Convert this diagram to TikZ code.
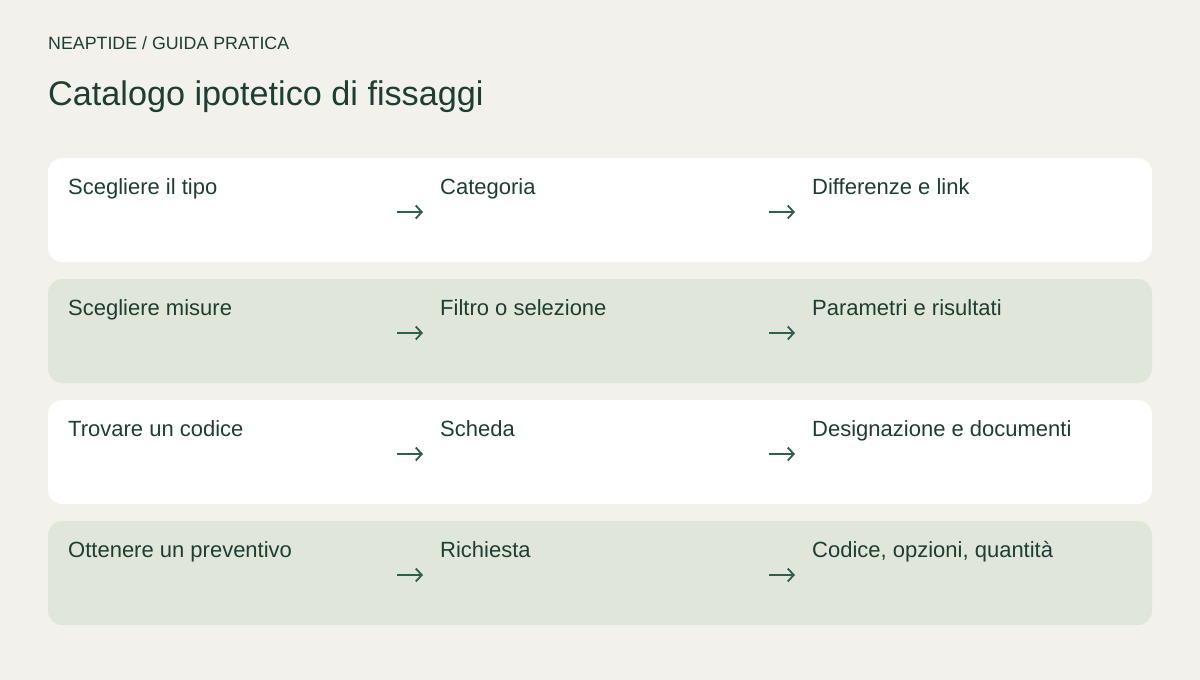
\documentclass[tikz,border=0pt]{standalone}
\usepackage{fontspec}
\setmainfont{Liberation Sans}
\usetikzlibrary{arrows.meta}
\definecolor{bgc}{HTML}{F2F1EC}
\definecolor{greenbox}{HTML}{E0E7DA}
\definecolor{txt}{HTML}{1E3D33}
\definecolor{arrc}{HTML}{2E5E4C}
\tikzset{
  rowbox/.style={rounded corners=14pt, draw=none},
  celltext/.style={anchor=base west, inner sep=0pt, text=txt, font=\fontsize{22}{26}\selectfont},
  arr/.style={draw=arrc, line width=1.8pt, -{Straight Barb[length=6pt,width=13pt,line width=1.8pt]}},
}
\begin{document}
\begin{tikzpicture}[x=1pt,y=-1pt]
\fill[bgc] (0,0) rectangle (1200,680);
\useasboundingbox (0,0) rectangle (1200,680);
\node[anchor=base west, inner sep=0pt, text=txt, font=\fontsize{17.8}{21}\selectfont] (kicker) at (48,49.5) {NEAPTIDE / GUIDA PRATICA};
\node[anchor=base west, inner sep=0pt, text=txt, font=\fontsize{34.2}{40}\selectfont] (title) at (48,105) {Catalogo ipotetico di fissaggi};
\foreach \i/\col/\a/\b/\c in {0/white/Scegliere il tipo/Categoria/Differenze e link,
  1/greenbox/Scegliere misure/Filtro o selezione/Parametri e risultati,
  2/white/Trovare un codice/Scheda/Designazione e documenti,
  3/greenbox/Ottenere un preventivo/Richiesta/{Codice, opzioni, quantità}} {
  \pgfmathsetmacro{\yt}{158+121*\i}
  \fill[rowbox, fill=\col] (48,\yt) rectangle (1152,\yt+104);
  \node[celltext] (c\i a) at (68,\yt+36) {\a};
  \node[celltext] (c\i b) at (440,\yt+36) {\b};
  \node[celltext] (c\i c) at (812,\yt+36) {\c};
  \coordinate (p\i s1) at (397,\yt+54);
  \coordinate (p\i e1) at (423,\yt+54);
  \coordinate (p\i s2) at (769,\yt+54);
  \coordinate (p\i e2) at (795,\yt+54);
  \draw[arr] (p\i s1) -- (p\i e1);
  \draw[arr] (p\i s2) -- (p\i e2);
}
\end{tikzpicture}
\end{document}
